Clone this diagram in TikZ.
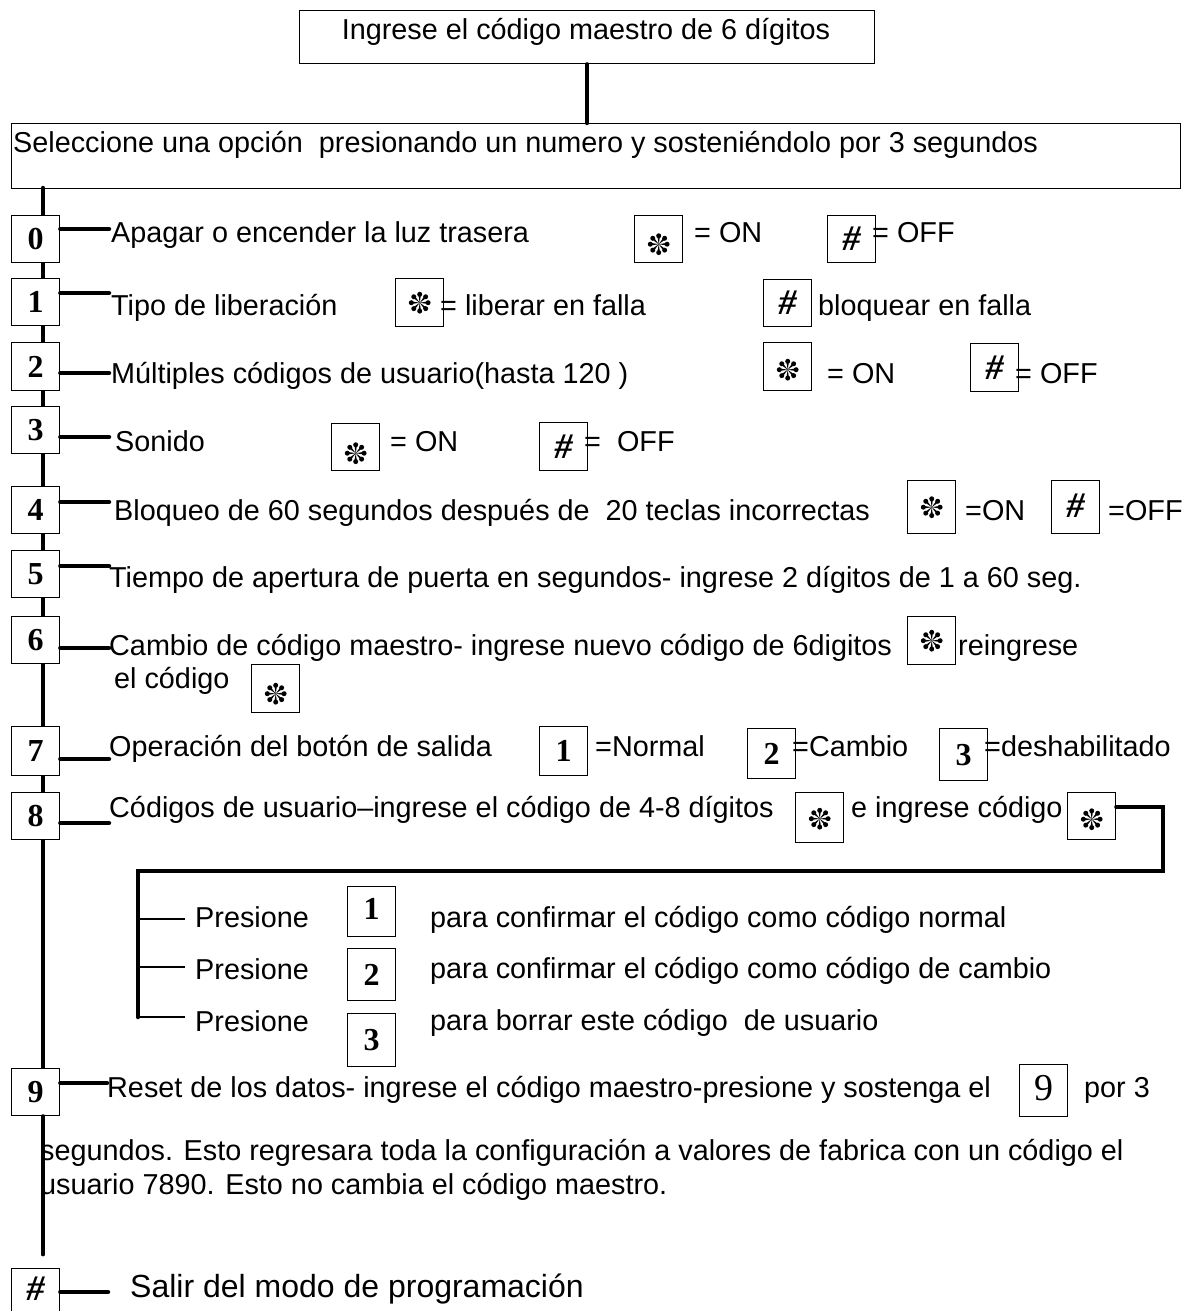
\documentclass[tikz,border=0pt]{standalone}
\usepackage{fontspec}
\setmainfont{Liberation Sans}
\newfontfamily\keyfont{Liberation Serif}
\newcommand\mainsz{\fontsize{28.8}{34}\selectfont}
\newcommand\kd[1]{{\keyfont\bfseries\fontsize{32}{32}\selectfont #1}}
\newcommand\hashg{{\keyfont\bfseries\itshape\fontsize{36}{36}\selectfont \#}}
\tikzset{
  conn/.style={line width=4.5pt, line cap=round},
  subln/.style={line width=1.4pt},
  frame/.style={draw, line width=1.4pt, inner sep=0pt, anchor=north west},
  keybox/.style={draw, line width=1.4pt, fill=white, minimum width=48pt, minimum height=47pt, inner sep=0pt, anchor=north west},
  txt/.style={anchor=base west, inner sep=0pt, font=\mainsz},
  starpic/.pic={
    \foreach \a in {0,45,...,315}{
      \fill (0,0) -- (\a-9:6.5) -- (\a:9) -- (\a+9:6.5) -- cycle;
      \fill (\a:8.4) circle (2.5);
    }
  },
}
\begin{document}
\begin{tikzpicture}[x=1pt,y=-1pt]
\useasboundingbox (0,0) rectangle (1186,1311);
% header boxes
\node[frame, minimum width=575pt, minimum height=53pt] (top) at (299,10) {};
\node[txt, anchor=base] (toptxt) at (586,40) {Ingrese el código maestro de 6 dígitos};
\node[frame, minimum width=1169pt, minimum height=65pt] (sel) at (11,123) {};
\node[txt] (seltxt) at (13,153) {Seleccione una opción~ presionando un numero y sosteniéndolo por 3 segundos};
\draw[conn] (top.south) -- (top.south |- sel.north);
% spine
\coordinate (spinetop) at (43,188);
\coordinate (spineend) at (43,1254);
\draw[conn] (spinetop) -- (spineend);
% number boxes
\node[keybox] (b0) at (11,215) {\kd{0}};
\node[keybox] (b1) at (11,278) {\kd{1}};
\node[keybox, minimum height=48pt] (b2) at (11,342) {\kd{2}};
\node[keybox] (b3) at (11,406) {\kd{3}};
\node[keybox] (b4) at (11,486) {\kd{4}};
\node[keybox] (b5) at (11,550) {\kd{5}};
\node[keybox] (b6) at (11,616) {\kd{6}};
\node[keybox, minimum height=49pt] (b7) at (11,726) {\kd{7}};
\node[keybox] (b8) at (11,792) {\kd{8}};
\node[keybox] (b9) at (11,1068) {\kd{9}};
\node[keybox] (bh) at (11,1268) {\raisebox{8pt}{\hashg}};
% connector ends
\coordinate (e0) at (109,229);
\coordinate (e1) at (109,293);
\coordinate (e2) at (109,373);
\coordinate (e3) at (109,437);
\coordinate (e4) at (109,502);
\coordinate (e5) at (109,566);
\coordinate (e6) at (109,648);
\coordinate (e7) at (109,759);
\coordinate (e8) at (109,823);
\coordinate (e9) at (107,1083);
\coordinate (eh) at (108,1292);
\foreach \n in {0,1,2,3,4,5,6,7,8,9,h}{\draw[conn] (b\n.east |- e\n) -- (e\n);}
% row 0
\node[txt] (t0) at (111,242) {Apagar o encender la luz trasera};
\node[keybox] (s0) at (634,215) {};
\node[txt] (on0) at (694,242) {= ON};
\node[keybox] (h0) at (827,215) {\raisebox{-4pt}{\hashg}};
\node[txt] (off0) at (872,242) {= OFF};
% row 1
\node[txt] (t1) at (111,315) {Tipo de liberación};
\node[keybox, minimum height=48pt] (s1) at (395,278) {};
\node[txt] (lib1) at (440,315) {= liberar en falla};
\node[keybox] (h1) at (763,279) {\hashg};
\node[txt] (blq1) at (818,315) {bloquear en falla};
% row 2
\node[txt] (t2) at (111,383) {Múltiples códigos de usuario(hasta 120 )};
\node[keybox, minimum height=48pt] (s2) at (763,342) {};
\node[txt] (on2) at (827,383) {= ON};
\node[keybox, minimum height=48pt] (h2) at (970,343) {\hashg};
\node[txt] (off2) at (1015,383) {= OFF};
% row 3
\node[txt] (t3) at (115,451) {Sonido};
\node[keybox] (s3) at (331,423) {};
\node[txt] (on3) at (390,451) {= ON};
\node[keybox, minimum height=48pt] (h3) at (539,422) {\raisebox{-4pt}{\hashg}};
\node[txt] (off3) at (584,451) {=~ OFF};
% row 4
\node[txt] (t4) at (114,520) {Bloqueo de 60 segundos después de~ 20 teclas incorrectas};
\node[keybox, minimum height=53pt] (s4) at (907,480) {};
\node[txt] (on4) at (965,520) {=ON};
\node[keybox, minimum height=53pt] (h4) at (1051,480) {\raisebox{3pt}{\hashg}};
\node[txt] (off4) at (1108,520) {=OFF};
% row 5
\node[txt] (t5) at (109,587) {Tiempo de apertura de puerta en segundos- ingrese 2 dígitos de 1 a 60 seg.};
% row 6
\node[txt] (t6) at (109,655) {Cambio de código maestro- ingrese nuevo código de 6digitos};
\node[keybox, minimum height=48pt] (s6) at (907,616) {};
\node[txt] (re6) at (958,655) {reingrese};
\node[txt] (t6b) at (114,688) {el código};
\node[keybox, minimum height=48pt] (s6b) at (251,664) {};
% row 7
\node[txt] (t7) at (109,756) {Operación del botón de salida};
\node[keybox, minimum height=49pt] (k71) at (539,726) {\kd{1}};
\node[txt] (n7) at (595,756) {=Normal};
\node[keybox, minimum height=50pt] (k72) at (747,728) {\kd{2}};
\node[txt] (c7) at (792,756) {=Cambio};
\node[keybox, minimum height=52pt] (k73) at (939,728) {\kd{3}};
\node[txt] (d7) at (984,756) {=deshabilitado};
% row 8
\node[txt] (t8) at (109,817) {Códigos de usuario–ingrese el código de 4-8 dígitos};
\node[keybox, minimum height=50pt] (s8) at (795,792) {};
\node[txt] (ei8) at (851,817) {e ingrese código};
\node[keybox] (s8b) at (1067,792) {};
% stars
\pic at ([yshift=-5pt]s0.center) {starpic};
\pic at (s1.center) {starpic};
\pic at ([yshift=-3pt]s2.center) {starpic};
\pic at ([yshift=-6pt]s3.center) {starpic};
\pic at (s4.center) {starpic};
\pic at (s6.center) {starpic};
\pic at ([yshift=-5pt]s6b.center) {starpic};
\pic at ([yshift=-1pt]s8.center) {starpic};
\pic at ([yshift=-3pt]s8b.center) {starpic};
% bracket
\coordinate (br1) at (1163,807);
\coordinate (br2) at (1163,871);
\coordinate (br3) at (138,871);
\coordinate (br4) at (138,1017);
\draw[conn] (s8b.east |- br1) -- (br1) -- (br2) -- (br3) -- (br4);
% sub rows
\coordinate (l1) at (185,919);
\coordinate (l2) at (185,967);
\coordinate (l3) at (185,1017);
\draw[subln] (br3 |- l1) -- (l1);
\draw[subln] (br3 |- l2) -- (l2);
\draw[subln] (br4) -- (l3);
\node[txt] (p1) at (195,927) {Presione};
\node[txt] (p2) at (195,979) {Presione};
\node[txt] (p3) at (195,1031) {Presione};
\node[keybox, minimum height=50pt] (q1) at (347,886) {\raisebox{6pt}{\kd{1}}};
\node[keybox, minimum height=52pt] (q2) at (347,948) {\kd{2}};
\node[keybox, minimum height=53pt] (q3) at (347,1013) {\raisebox{-6pt}{\kd{3}}};
\node[txt] (r1) at (430,927) {para confirmar el código como código normal};
\node[txt] (r2) at (430,978) {para confirmar el código como código de cambio};
\node[txt] (r3) at (430,1030) {para borrar este código~ de usuario};
% row 9
\node[txt] (t9) at (107,1097) {Reset de los datos- ingrese el código maestro-presione y sostenga el};
\node[keybox, minimum height=52pt] (k9) at (1019,1064) {\raisebox{6pt}{\keyfont\fontsize{38}{38}\selectfont 9}};
\node[txt] (por9) at (1084,1097) {por 3};
\node[txt] (t9b) at (40,1160) {segundos. Esto regresara toda la configuración a valores de fabrica con un código el};
\node[txt] (t9c) at (40,1194) {usuario 7890. Esto no cambia el código maestro.};
\draw[conn] (spinetop |- b9.south) -- (spineend);
% exit row
\node[txt, font=\fontsize{32}{36}\selectfont] (th) at (130,1297) {Salir del modo de programación};
\end{tikzpicture}
\end{document}
